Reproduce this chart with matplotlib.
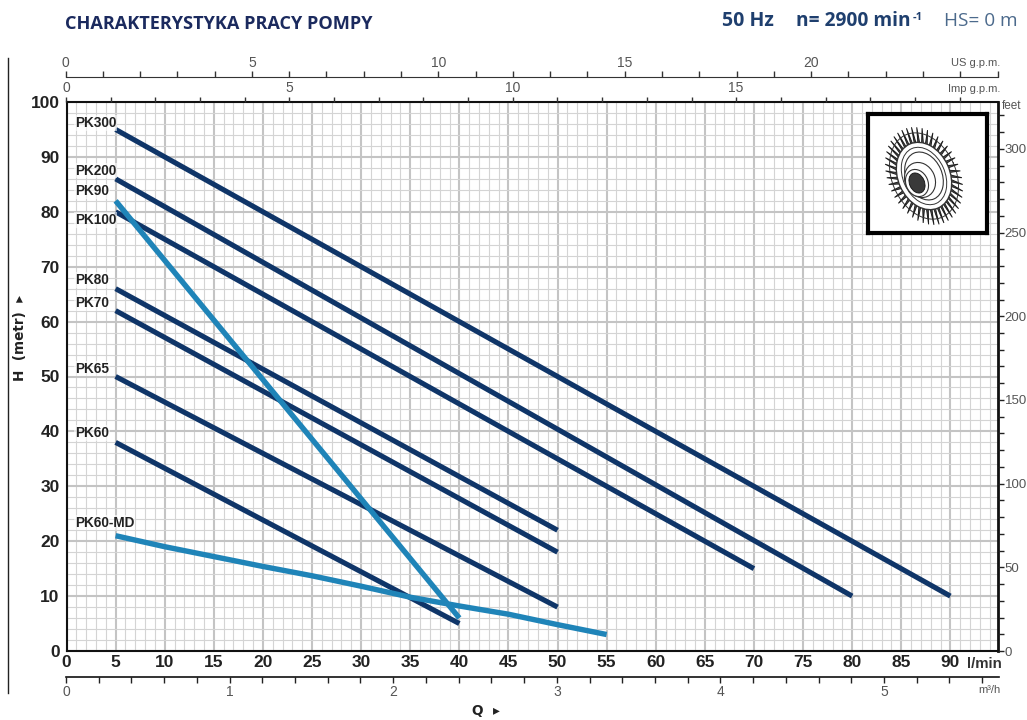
import numpy as np
import matplotlib
matplotlib.use('Agg')
import matplotlib.pyplot as plt
from matplotlib.patches import Ellipse

W, H = 1027, 720
SANS = ['Liberation Sans', 'DejaVu Sans']
NAVY = '#0f3568'
BLUE = '#1f84b8'
GREY = '#555555'

# pump curves (l/min, metres)
pk300_q = [5, 90]
pk300_h = [95, 10]
pk200_q = [5, 80]
pk200_h = [86, 10]
pk100_q = [5, 70]
pk100_h = [80, 15]
pk90_q = [5, 40]
pk90_h = [82, 6]
pk80_q = [5, 50]
pk80_h = [66, 22]
pk70_q = [5, 50]
pk70_h = [62, 18]
pk65_q = [5, 50]
pk65_h = [50, 8]
pk60_q = [5, 40]
pk60_h = [38, 5]
pk60md_q = [5, 10, 15, 20, 25, 30, 35, 40, 45, 50, 55]
pk60md_h = [21, 19, 17.2, 15.4, 13.7, 11.8, 9.8, 8.2, 6.7, 4.8, 3]

dark_q = [pk300_q, pk200_q, pk100_q, pk80_q, pk70_q, pk65_q, pk60_q]
dark_h = [pk300_h, pk200_h, pk100_h, pk80_h, pk70_h, pk65_h, pk60_h]

labels = ['PK300', 'PK200', 'PK90', 'PK100', 'PK80', 'PK70', 'PK65', 'PK60', 'PK60-MD']
label_h = [96.2, 87.5, 83.7, 78.5, 67.6, 63.4, 51.4, 39.7, 23.4]


def px_axes(x0, y0, x1, y1, **kw):
    # axes from pixel box, y measured from the top
    return fig.add_axes([x0 / W, 1 - y1 / H, (x1 - x0) / W, (y1 - y0) / H], **kw)


fig = plt.figure(figsize=(W / 100, H / 100), dpi=100, facecolor='white')

# main plot
ax = px_axes(66.5, 102, 998, 651)
ax.set_xlim(0, 94.85)
ax.set_ylim(0, 100)
ax.set_xticks(np.arange(0, 91, 5))
ax.set_xticks(np.arange(0, 95, 1), minor=True)
ax.set_yticks(np.arange(0, 101, 10))
ax.set_yticks(np.arange(0, 101, 2), minor=True)
ax.grid(which='minor', color='#d4d4d4', lw=0.8)
ax.grid(which='major', color='#c4c4c4', lw=1.5)
ax.set_axisbelow(True)
ax.tick_params(which='both', length=0)
ax.tick_params(axis='x', pad=3)
ax.tick_params(axis='y', pad=5)
for lab in ax.get_xticklabels() + ax.get_yticklabels():
    lab.set_fontfamily(SANS)
    lab.set_fontsize(12.5)
    lab.set_fontweight('bold')
    lab.set_color('#222222')
for s in ax.spines.values():
    s.set_linewidth(1.5)
    s.set_color('#111111')
ax.spines['right'].set_linewidth(2)

for q, h in zip(dark_q, dark_h):
    ax.plot(q, h, color=NAVY, lw=3.7, solid_capstyle='butt', zorder=3)
ax.plot(pk90_q, pk90_h, color=BLUE, lw=3.9, solid_capstyle='butt', zorder=4)
ax.plot(pk60md_q, pk60md_h, color=BLUE, lw=3.9, solid_capstyle='butt', zorder=4)

for name, y in zip(labels, label_h):
    ax.text(0.87, y, name, family=SANS, fontsize=9.8, fontweight='bold',
            color='#222222', va='center', ha='left', zorder=5,
            bbox=dict(fc='white', ec='none', alpha=0.6, pad=0.5))

ax.text(91.7, -2.3, 'l/min', family=SANS, fontsize=10.8, fontweight='bold',
        color='#333333', va='center', ha='left', clip_on=False)

# right axis in feet
axr = ax.twinx()
axr.set_ylim(0, 328)
axr.set_yticks(np.arange(0, 301, 50))
axr.set_yticks(np.arange(0, 321, 10), minor=True)
axr.tick_params(which='both', direction='out', width=1, color='#222222', length=4.3)
axr.tick_params(which='major', pad=0.5, labelsize=9.5, labelcolor=GREY)
for lab in axr.get_yticklabels():
    lab.set_fontfamily(SANS)
for s in axr.spines.values():
    s.set_visible(False)


def scale_axis(y, x0, x1, lim, major, minor):
    # a lone horizontal scale drawn as an empty axes
    a = px_axes(x0, y, x1, y + 0.01, facecolor='none')
    a.set_xlim(0, lim)
    a.set_yticks([])
    a.set_xticks(major)
    a.set_xticks(minor, minor=True)
    for s in ['left', 'right', 'top', 'bottom']:
        a.spines[s].set_visible(False)
    return a


# top scale, US g.p.m.
us = scale_axis(77, 65.5, 997.5, 25, np.arange(0, 21, 5), np.arange(0, 26, 1))
us.spines['top'].set_visible(True)
us.spines['top'].set_color('#333333')
us.tick_params(which='both', direction='out', top=True, bottom=False, labeltop=True,
               labelbottom=False, length=4.3, width=1, color='#333333', pad=1)

# top scale, Imp g.p.m.
imp = scale_axis(102, 66, 998, 20.86, np.arange(0, 16, 5), np.arange(0, 21, 1))
imp.tick_params(which='both', direction='out', top=True, bottom=False, labeltop=True,
                labelbottom=False, length=3.8, width=1, color='#333333', pad=1)

# bottom scale, m3/h
m3 = scale_axis(677, 66, 999, 5.703, np.arange(0, 6, 1), np.arange(0, 5.7, 0.2))
m3.spines['top'].set_visible(True)
m3.spines['top'].set_color('#111111')
m3.spines['top'].set_linewidth(1.2)
m3.tick_params(which='both', direction='out', top=False, bottom=True, length=4,
               width=1, color='#222222', pad=2)

for a in (us, imp, m3):
    for lab in a.get_xticklabels():
        lab.set_fontfamily(SANS)
        lab.set_fontsize(10)
        lab.set_color(GREY)


def put(x, y, s, **kw):
    fig.text(x / W, 1 - y / H, s, **kw)


put(1021, 106, 'feet', family=SANS, fontsize=8.5, color=GREY, ha='right', va='center')
put(1000, 63, 'US g.p.m.', family=SANS, fontsize=8, color=GREY, ha='right', va='center')
put(1000, 89, 'Imp g.p.m.', family=SANS, fontsize=8, color=GREY, ha='right', va='center')
put(1001, 690, 'm³/h', family=SANS, fontsize=8, color=GREY, ha='right', va='center')

# header
put(65, 24, 'CHARAKTERYSTYKA PRACY POMPY', family='Open Sans', fontsize=13.1,
    fontweight='bold', color='#1b2a5e', ha='left', va='center')
put(722, 21, '50 Hz', family='Open Sans', fontsize=14, fontweight='bold',
    color='#1f3f6e', ha='left', va='center')
put(796, 21, 'n= 2900 min', family='Open Sans', fontsize=13.8,
    fontweight='bold', color='#1f3f6e', ha='left', va='center')
put(913, 17, '-1', family='Open Sans', fontsize=8, fontweight='bold',
    color='#1f3f6e', ha='left', va='center')
put(944, 21, 'HS= 0 m', family='Open Sans', fontsize=13.7, color='#4c6a8c',
    ha='left', va='center')

# axis names
put(20, 338, 'H  (metr)  ▸', family='DejaVu Sans', fontsize=9.8, fontweight='bold',
    rotation=90, ha='center', va='center', color='#222222')
put(486, 711, 'Q  ▸', family='DejaVu Sans', fontsize=9.8, fontweight='bold',
    ha='center', va='center', color='#222222')

# vertical rule on the far left
fig.add_artist(plt.Line2D([7.5 / W, 7.5 / W], [1 - 58 / H, 1 - 693 / H],
                          color='#222222', lw=1))

# impeller sketch in the box
box = px_axes(868, 114, 987, 233, facecolor='white', zorder=6)
box.set_xlim(0, 119)
box.set_ylim(119, 0)
box.set_xticks([])
box.set_yticks([])
for s in box.spines.values():
    s.set_linewidth(3)
    s.set_color('black')

cx, cy = 56, 62
tilt = np.radians(-24)


def wheel(u, v):
    # point on the tilted disc
    return (cx + u * np.cos(tilt) - v * np.sin(tilt),
            cy + u * np.sin(tilt) + v * np.cos(tilt))


for ang in np.radians(np.arange(0, 360, 8)):
    # one thin blade: two edges meeting at the tip
    x1, y1 = wheel(25 * np.cos(ang), 34 * np.sin(ang))
    x2, y2 = wheel(36 * np.cos(ang + 0.06), 51 * np.sin(ang + 0.06))
    x3, y3 = wheel(25 * np.cos(ang + 0.07), 34 * np.sin(ang + 0.07))
    box.fill([x1, x2, x3], [y1, y2, y3], fc='#555555', ec='#1c1c1c', lw=0.7)
ox, oy = wheel(32 * np.cos(np.linspace(0, 2 * np.pi, 120)), 45 * np.sin(np.linspace(0, 2 * np.pi, 120)))
box.plot(ox, oy, color='#333333', lw=0.7)

for w_, h_, lw_ in [(52, 70, 1.0), (42, 60, 0.7), (36, 50, 0.8)]:
    box.add_patch(Ellipse((cx, cy), w_, h_, angle=-24, fc='white', ec='#333333', lw=lw_))
box.add_patch(Ellipse((cx - 4, cy + 4), 30, 36, angle=-24, fc='white', ec='#333333', lw=0.8))
box.add_patch(Ellipse((cx - 7, cy + 7), 22, 28, angle=-24, fc='white', ec='#333333', lw=0.8))
box.add_patch(Ellipse((cx - 7, cy + 7), 15, 21, angle=-24, fc='#3a3a3a', ec='#111111', lw=0.6))

fig.savefig('out.png', dpi=100)
